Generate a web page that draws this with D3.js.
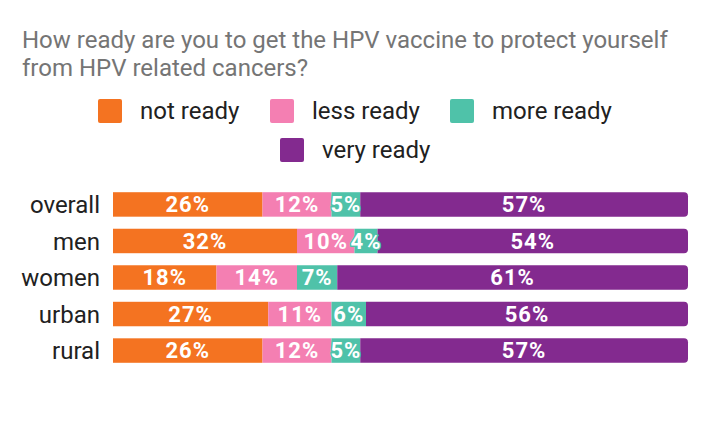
<!DOCTYPE html>
<html><head><meta charset="utf-8">
<script src="https://cdn.jsdelivr.net/npm/d3@7"></script>
<style>body{margin:0;background:#fff;}svg{display:block;font-family:Roboto,sans-serif;}</style>
</head><body>
<svg id="c" width="710" height="438"></svg>
<script>
const categories = ["overall","men","women","urban","rural"];
const seriesNames = ["not ready","less ready","more ready","very ready"];
const notReady = [26,32,18,27,26];
const lessReady = [12,10,14,11,12];
const moreReady = [5,4,7,6,5];
const veryReady = [57,54,61,56,57];
const colors = ["#f47321","#f47fb2","#4fc2a9","#832a8f"];

const svg = d3.select("#c");
const title = ["How ready are you to get the HPV vaccine to protect yourself","from HPV related cancers?"];
svg.append("text").attr("x",22).attr("y",48).attr("fill","#757575").style("font-size","24px")
  .selectAll("tspan").data(title).join("tspan").attr("x",22).attr("dy",(d,i)=>i?28:0).text(d=>d);

// legend
const legendPos = [[98,111],[270,111],[450,111],[280,150]];
const lg = svg.append("g");
seriesNames.forEach((n,i)=>{
  const [x,y]=legendPos[i];
  lg.append("rect").attr("x",x).attr("y",y-12).attr("width",24).attr("height",24).attr("rx",2).attr("fill",colors[i]);
  lg.append("text").attr("x",x+42).attr("y",y).attr("dy","0.35em").attr("fill","#212121").style("font-size","24px").text(n);
});

const data = categories.map((c,i)=>({cat:c, "not ready":notReady[i],"less ready":lessReady[i],"more ready":moreReady[i],"very ready":veryReady[i]}));
const stack = d3.stack().keys(seriesNames)(data);
const x = d3.scaleLinear().domain([0,100]).range([113,688]);
const y = d3.scaleBand().domain(categories).range([186,369]).paddingInner(0.33).paddingOuter(0.17);

const yAxis = svg.append("g").attr("transform","translate(113,0)").call(d3.axisLeft(y).tickSize(0).tickPadding(13));
yAxis.select(".domain").remove();
yAxis.selectAll("text").attr("fill","#212121").attr("dy","0.36em").style("font-size","24px").style("font-family","Roboto,sans-serif");

stack.forEach((s,si)=>{
  const g = svg.append("g");
  s.forEach((d,i)=>{
    const x0=x(d[0]), x1=x(d[1]), yy=y(d.data.cat), h=y.bandwidth();
    if(si===seriesNames.length-1){
      const r=4;
      g.append("path").attr("fill",colors[si]).attr("d",
        `M${x0},${yy}H${x1-r}Q${x1},${yy} ${x1},${yy+r}V${yy+h-r}Q${x1},${yy+h} ${x1-r},${yy+h}H${x0}Z`);
    } else {
      g.append("rect").attr("x",x0).attr("y",yy).attr("width",x1-x0).attr("height",h).attr("fill",colors[si]);
    }
  });
});
stack.forEach((s,si)=>{
  const g = svg.append("g");
  s.forEach(d=>{
    g.append("text").attr("x",(x(d[0])+x(d[1]))/2).attr("y",y(d.data.cat)+y.bandwidth()/2).attr("dy","0.36em")
      .attr("text-anchor","middle").attr("fill","#fff").attr("stroke",colors[si]).attr("stroke-width",3)
      .attr("paint-order","stroke").style("font-size","22px").style("font-weight","bold").style("letter-spacing","1px")
      .text((d[1]-d[0])+"%");
  });
});
</script>
</body></html>
